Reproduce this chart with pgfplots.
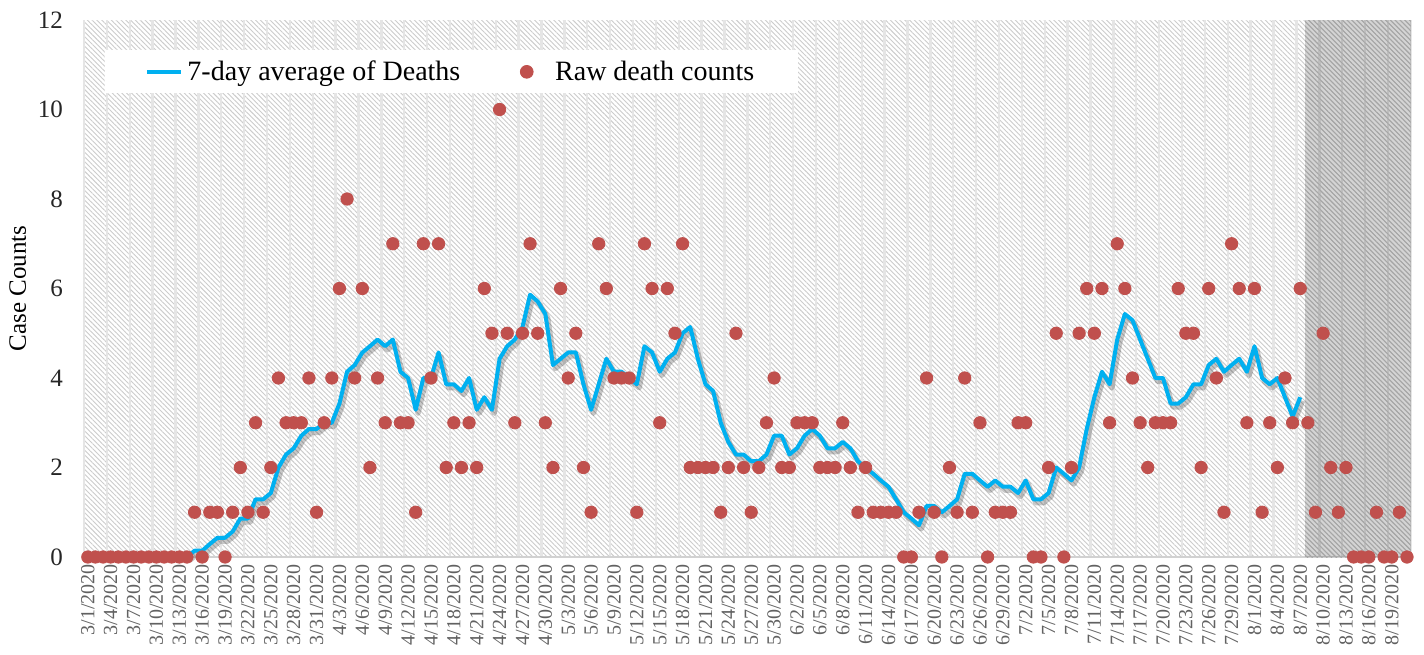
\documentclass[border=0pt]{standalone}
\usepackage{fontspec}
\setmainfont{Liberation Serif}
\usepackage{pgfplots}
\usepackage{pgfplotstable}
\pgfplotsset{compat=1.18}
\usetikzlibrary{patterns.meta}

\definecolor{avgblue}{RGB}{0,176,240}
\definecolor{rawred}{RGB}{192,80,77}

% raw daily deaths, day 0 = 3/1/2020
\pgfplotstableread[row sep=\\]{
day val\\
0 0\\ 1 0\\ 2 0\\ 3 0\\ 4 0\\ 5 0\\ 6 0\\ 7 0\\ 8 0\\ 9 0\\
10 0\\ 11 0\\ 12 0\\ 13 0\\ 14 1\\ 15 0\\ 16 1\\ 17 1\\ 18 0\\ 19 1\\
20 2\\ 21 1\\ 22 3\\ 23 1\\ 24 2\\ 25 4\\ 26 3\\ 27 3\\ 28 3\\ 29 4\\
30 1\\ 31 3\\ 32 4\\ 33 6\\ 34 8\\ 35 4\\ 36 6\\ 37 2\\ 38 4\\ 39 3\\
40 7\\ 41 3\\ 42 3\\ 43 1\\ 44 7\\ 45 4\\ 46 7\\ 47 2\\ 48 3\\ 49 2\\
50 3\\ 51 2\\ 52 6\\ 53 5\\ 54 10\\ 55 5\\ 56 3\\ 57 5\\ 58 7\\ 59 5\\
60 3\\ 61 2\\ 62 6\\ 63 4\\ 64 5\\ 65 2\\ 66 1\\ 67 7\\ 68 6\\ 69 4\\
70 4\\ 71 4\\ 72 1\\ 73 7\\ 74 6\\ 75 3\\ 76 6\\ 77 5\\ 78 7\\ 79 2\\
80 2\\ 81 2\\ 82 2\\ 83 1\\ 84 2\\ 85 5\\ 86 2\\ 87 1\\ 88 2\\ 89 3\\
90 4\\ 91 2\\ 92 2\\ 93 3\\ 94 3\\ 95 3\\ 96 2\\ 97 2\\ 98 2\\ 99 3\\
100 2\\ 101 1\\ 102 2\\ 103 1\\ 104 1\\ 105 1\\ 106 1\\ 107 0\\ 108 0\\ 109 1\\
110 4\\ 111 1\\ 112 0\\ 113 2\\ 114 1\\ 115 4\\ 116 1\\ 117 3\\ 118 0\\ 119 1\\
120 1\\ 121 1\\ 122 3\\ 123 3\\ 124 0\\ 125 0\\ 126 2\\ 127 5\\ 128 0\\ 129 2\\
130 5\\ 131 6\\ 132 5\\ 133 6\\ 134 3\\ 135 7\\ 136 6\\ 137 4\\ 138 3\\ 139 2\\
140 3\\ 141 3\\ 142 3\\ 143 6\\ 144 5\\ 145 5\\ 146 2\\ 147 6\\ 148 4\\ 149 1\\
150 7\\ 151 6\\ 152 3\\ 153 6\\ 154 1\\ 155 3\\ 156 2\\ 157 4\\ 158 3\\ 159 6\\
160 3\\ 161 1\\ 162 5\\ 163 2\\ 164 1\\ 165 2\\ 166 0\\ 167 0\\ 168 0\\ 169 1\\
170 0\\ 171 0\\ 172 1\\ 173 0\\
}\rawdata

% 7-day average
\pgfplotstableread[row sep=\\]{
day val\\
13 0\\ 14 0.14\\ 15 0.14\\ 16 0.29\\ 17 0.43\\ 18 0.43\\ 19 0.57\\
20 0.86\\ 21 0.86\\ 22 1.29\\ 23 1.29\\ 24 1.43\\ 25 2.00\\ 26 2.29\\ 27 2.43\\ 28 2.71\\ 29 2.86\\
30 2.86\\ 31 3.00\\ 32 3.00\\ 33 3.43\\ 34 4.14\\ 35 4.29\\ 36 4.57\\ 37 4.71\\ 38 4.86\\ 39 4.71\\
40 4.86\\ 41 4.14\\ 42 4.00\\ 43 3.29\\ 44 4.00\\ 45 4.00\\ 46 4.57\\ 47 3.86\\ 48 3.86\\ 49 3.71\\
50 4.00\\ 51 3.29\\ 52 3.57\\ 53 3.29\\ 54 4.43\\ 55 4.71\\ 56 4.86\\ 57 5.14\\ 58 5.86\\ 59 5.71\\
60 5.43\\ 61 4.29\\ 62 4.43\\ 63 4.57\\ 64 4.57\\ 65 3.86\\ 66 3.29\\ 67 3.86\\ 68 4.43\\ 69 4.14\\
70 4.14\\ 71 4.00\\ 72 3.86\\ 73 4.71\\ 74 4.57\\ 75 4.14\\ 76 4.43\\ 77 4.57\\ 78 5.00\\ 79 5.14\\
80 4.43\\ 81 3.86\\ 82 3.71\\ 83 3.00\\ 84 2.57\\ 85 2.29\\ 86 2.29\\ 87 2.14\\ 88 2.14\\ 89 2.29\\
90 2.71\\ 91 2.71\\ 92 2.29\\ 93 2.43\\ 94 2.71\\ 95 2.86\\ 96 2.71\\ 97 2.43\\ 98 2.43\\ 99 2.57\\
100 2.43\\ 101 2.14\\ 102 2.00\\ 103 1.86\\ 104 1.71\\ 105 1.57\\ 106 1.29\\ 107 1.00\\ 108 0.86\\ 109 0.71\\
110 1.14\\ 111 1.14\\ 112 1.00\\ 113 1.14\\ 114 1.29\\ 115 1.86\\ 116 1.86\\ 117 1.71\\ 118 1.57\\ 119 1.71\\
120 1.57\\ 121 1.57\\ 122 1.43\\ 123 1.71\\ 124 1.29\\ 125 1.29\\ 126 1.43\\ 127 2.00\\ 128 1.86\\ 129 1.71\\
130 2.00\\ 131 2.86\\ 132 3.57\\ 133 4.14\\ 134 3.86\\ 135 4.86\\ 136 5.43\\ 137 5.29\\ 138 4.86\\ 139 4.43\\
140 4.00\\ 141 4.00\\ 142 3.43\\ 143 3.43\\ 144 3.57\\ 145 3.86\\ 146 3.86\\ 147 4.29\\ 148 4.43\\ 149 4.14\\
150 4.29\\ 151 4.43\\ 152 4.14\\ 153 4.71\\ 154 4.00\\ 155 3.86\\ 156 4.00\\ 157 3.57\\ 158 3.14\\ 159 3.57\\
}\avgdata

\begin{document}
\begin{tikzpicture}
\useasboundingbox (-42pt,-48.5pt) rectangle (670pt,278.5pt);
\begin{axis}[
	at={(0pt,0pt)}, anchor=south west,
	scale only axis,
	width=663.4pt, height=268.5pt,
	xmin=-0.5, xmax=173.5,
	ymin=0, ymax=12,
	clip=false,
	axis lines*=left,
	x axis line style={draw=black!18, line width=0.8pt},
	y axis line style={draw=none},
	axis background/.style={fill=white, postaction={pattern={Lines[angle=-45, distance=1.7pt, line width=0.45pt]}, pattern color=black!20}},
	major tick length=0pt, minor tick length=0pt,
	ytick={0,2,...,12},
	xtick={0,3,...,171},
	xticklabels={3/1/2020,3/4/2020,3/7/2020,3/10/2020,3/13/2020,3/16/2020,3/19/2020,3/22/2020,3/25/2020,3/28/2020,3/31/2020,4/3/2020,4/6/2020,4/9/2020,4/12/2020,4/15/2020,4/18/2020,4/21/2020,4/24/2020,4/27/2020,4/30/2020,5/3/2020,5/6/2020,5/9/2020,5/12/2020,5/15/2020,5/18/2020,5/21/2020,5/24/2020,5/27/2020,5/30/2020,6/2/2020,6/5/2020,6/8/2020,6/11/2020,6/14/2020,6/17/2020,6/20/2020,6/23/2020,6/26/2020,6/29/2020,7/2/2020,7/5/2020,7/8/2020,7/11/2020,7/14/2020,7/17/2020,7/20/2020,7/23/2020,7/26/2020,7/29/2020,8/1/2020,8/4/2020,8/7/2020,8/10/2020,8/13/2020,8/16/2020,8/19/2020},
	minor xtick={-0.5,2.5,...,173.5},
	xminorgrids=true,
	minor grid style={draw=black!10, line width=1.2pt},
	/pgf/number format/assume math mode=true,
	x tick label style={rotate=90, anchor=east, font=\fontsize{10}{10}\selectfont, text=black!62},
	y tick label style={font=\fontsize{12.5}{14}\selectfont, text=black!85, xshift=-7pt},
	ylabel={Case Counts},
	ylabel style={at={(axis description cs:-0.05,0.5)}, anchor=center, font=\fontsize{12.5}{14}\selectfont},
	legend columns=2,
	legend style={at={(axis description cs:0.0158,0.944)}, anchor=north west,
		draw=none, fill=white, inner xsep=20pt, inner ysep=3pt,
		font=\fontsize{14}{16}\selectfont,
		/tikz/every even column/.append style={column sep=28pt}},
	legend cell align=left,
]
	% projection period shading
	\fill[black, fill opacity=0.17] (axis cs:159.6,0) rectangle (axis cs:173.5,12);
	\fill[pattern={Lines[angle=-45, distance=1.7pt, line width=0.45pt]}, pattern color=black!35] (axis cs:159.6,0) rectangle (axis cs:173.5,12);

	\addlegendimage{avgblue, line width=2pt}
	\addlegendentry{7-day average of Deaths}
	\addlegendimage{only marks, mark=*, mark size=3.2pt, rawred}
	\addlegendentry{\hspace{9pt}Raw death counts}

	\addplot[only marks, mark=*, mark size=3.1pt, mark options={draw=rawred, fill=rawred}, forget plot] table[x=day, y=val] {\rawdata};
	\addplot[black, opacity=0.22, line width=2.6pt, xshift=1.2pt, yshift=-1.8pt, line join=round, forget plot] table[x=day, y=val] {\avgdata};
	\addplot[avgblue, line width=2pt, line join=round, forget plot] table[x=day, y=val] {\avgdata};
\end{axis}
\end{tikzpicture}
\end{document}
